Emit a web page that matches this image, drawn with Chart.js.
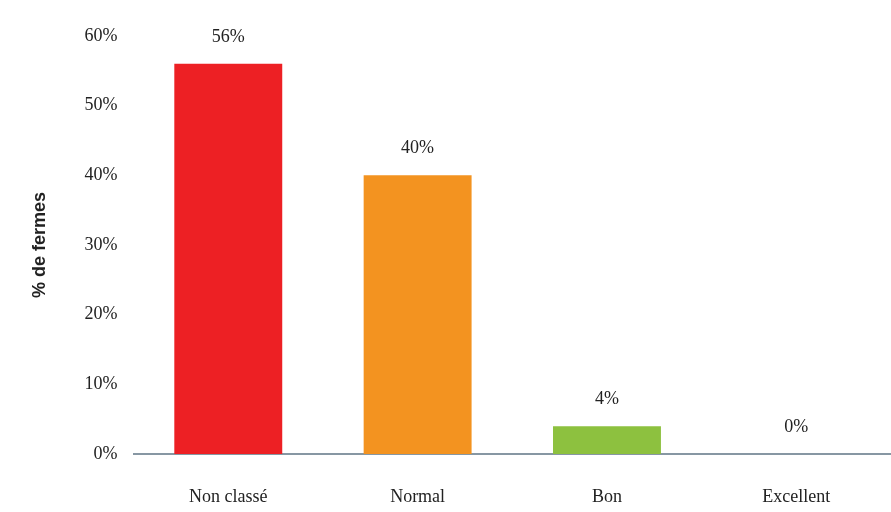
<!DOCTYPE html>
<html>
<head>
<meta charset="utf-8">
<script src="https://cdn.jsdelivr.net/npm/chart.js@4/dist/chart.umd.min.js"></script>
<style>
html,body{margin:0;padding:0;background:#fff;}
#wrap{width:891px;height:512px;}
</style>
</head>
<body>
<div id="wrap"><canvas id="c" width="891" height="512"></canvas></div>
<script>
const categories = ["Non classé", "Normal", "Bon", "Excellent"];
const values = [56, 40, 4, 0];
const valueLabels = ["56%", "40%", "4%", "0%"];
const barColors = ["#ED2024", "#F39320", "#8DC13F", "#8DC13F"];
const yTitle = "% de fermes";

const labelPlugin = {
  id: 'valueLabels',
  afterDatasetsDraw(chart) {
    const ctx = chart.ctx;
    const meta = chart.getDatasetMeta(0);
    ctx.save();
    ctx.font = '18px "Liberation Serif", serif';
    ctx.fillStyle = '#222';
    ctx.textAlign = 'center';
    ctx.textBaseline = 'middle';
    meta.data.forEach((el, i) => {
      ctx.fillText(valueLabels[i], el.x, el.y - 27);
    });
    ctx.restore();
  }
};

new Chart(document.getElementById('c'), {
  type: 'bar',
  data: {
    labels: categories,
    datasets: [{
      data: values,
      backgroundColor: barColors,
      borderWidth: 0,
      barPercentage: 0.57,
      categoryPercentage: 1.0
    }]
  },
  options: {
    responsive: false,
    animation: false,
    layout: { padding: { top: 36, right: 0, left: 25, bottom: 0 } },
    plugins: { legend: { display: false }, tooltip: { enabled: false } },
    scales: {
      x: {
        grid: { display: false, drawTicks: false },
        border: { display: true, color: '#8797a3', width: 2 },
        afterFit: s => { s.height = 58; },
        ticks: { color: '#222', padding: 32, font: { family: '"Liberation Serif", serif', size: 18 } }
      },
      y: {
        min: 0, max: 60,
        grid: { display: false, drawTicks: false },
        border: { display: false },
        ticks: { stepSize: 10, color: '#222', padding: 16,
          callback: v => v + '%',
          font: { family: '"Liberation Serif", serif', size: 18 } },
        title: { display: true, text: yTitle, color: '#222', padding: { bottom: 18 },
          font: { family: '"Liberation Sans", sans-serif', size: 18, weight: 'bold' } }
      }
    }
  },
  plugins: [labelPlugin]
});
</script>
</body>
</html>
